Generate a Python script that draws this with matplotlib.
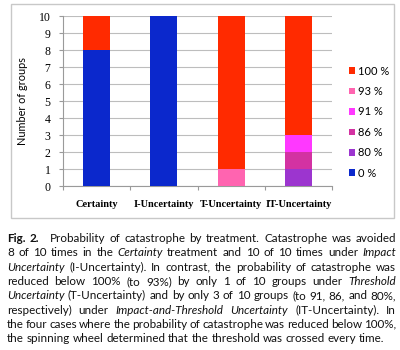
import numpy as np
import matplotlib.pyplot as plt
from matplotlib.patches import Rectangle

treatments = ["Certainty", "I-Uncertainty", "T-Uncertainty", "IT-Uncertainty"]

# series stacked from the bottom up
series = ["0 %", "80 %", "86 %", "91 %", "93 %", "100 %"]
counts = [
    [8, 10, 0, 0],   # 0 %
    [0, 0, 0, 1],    # 80 %
    [0, 0, 0, 1],    # 86 %
    [0, 0, 0, 1],    # 91 %
    [0, 0, 1, 0],    # 93 %
    [2, 0, 9, 7],    # 100 %
]
colors = ["#0B28CC", "#9C35CF", "#D332A2", "#FF38FF", "#FF64B0", "#FF2A00"]

caption = [
    [("Fig.", "b"), ("2.", "b", 2.6), ("Probability", "n"), ("of", "n"), ("catastrophe", "n"),
     ("by", "n"), ("treatment.", "n"), ("Catastrophe", "n"), ("was", "n"), ("avoided", "n")],
    [("8", "n"), ("of", "n"), ("10", "n"), ("times", "n"), ("in", "n"), ("the", "n"),
     ("Certainty", "i"), ("treatment", "n"), ("and", "n"), ("10", "n"), ("of", "n"),
     ("10", "n"), ("times", "n"), ("under", "n"), ("Impact", "i")],
    [("Uncertainty", "i"), ("(I-Uncertainty).", "n"), ("In", "n"), ("contrast,", "n"),
     ("the", "n"), ("probability", "n"), ("of", "n"), ("catastrophe", "n"), ("was", "n")],
    [("reduced", "n"), ("below", "n"), ("100%", "n"), ("(to", "n"), ("93%)", "n"), ("by", "n"),
     ("only", "n"), ("1", "n"), ("of", "n"), ("10", "n"), ("groups", "n"), ("under", "n"),
     ("Threshold", "i")],
    [("Uncertainty", "i"), ("(T-Uncertainty)", "n"), ("and", "n"), ("by", "n"), ("only", "n"),
     ("3", "n"), ("of", "n"), ("10", "n"), ("groups", "n"), ("(to", "n"), ("91,", "n"),
     ("86,", "n"), ("and", "n"), ("80%,", "n")],
    [("respectively)", "n"), ("under", "n"), ("Impact-and-Threshold", "i"),
     ("Uncertainty", "i"), ("(IT-Uncertainty).", "n"), ("In", "n")],
    [("the", "n"), ("four", "n"), ("cases", "n"), ("where", "n"), ("the", "n"),
     ("probability", "n"), ("of", "n"), ("catastrophe", "n"), ("was", "n"), ("reduced", "n"),
     ("below", "n"), ("100%,", "n")],
    [("the", "n"), ("spinning", "n"), ("wheel", "n"), ("determined", "n"), ("that", "n"),
     ("the", "n"), ("threshold", "n"), ("was", "n"), ("crossed", "n"), ("every", "n"),
     ("time.", "n")],
]

W, H = 400, 350
fig = plt.figure(figsize=(4, 3.5), dpi=100)

# light frame round the chart
fig.patches.append(Rectangle((11 / W, 1 - 218 / H), 383 / W, 214 / H,
                             transform=fig.transFigure, fill=False,
                             edgecolor="#c8c8c8", lw=1.0))

ax = fig.add_axes([63 / W, 1 - 186 / H, 269 / W, 170 / H])
x = np.arange(len(treatments))
bottom = np.zeros(len(treatments))
bars = []
for name, vals, c in zip(series, counts, colors):
    b = ax.bar(x, vals, width=0.4, bottom=bottom, color=c, label=name, zorder=3)
    bars.append(b)
    bottom += np.array(vals)

ax.set_xlim(-0.5, 3.5)
ax.set_ylim(0, 10)
ax.set_yticks(range(0, 11))
ax.grid(axis="y", color="#bdbdbd", lw=0.8, zorder=0)
for s in ["top", "right"]:
    ax.spines[s].set_visible(False)
for s in ["left", "bottom"]:
    ax.spines[s].set_color("#9a9a9a")
    ax.spines[s].set_linewidth(0.8)
ax.tick_params(axis="y", length=3, width=0.8, color="#9a9a9a", pad=6)
ax.set_yticklabels([str(v) for v in range(0, 11)], family="Liberation Serif", fontsize=8.5)
ax.set_xticks(x)
ax.set_xticklabels(treatments, family="Liberation Serif", fontweight="bold", fontsize=7.5)
ax.tick_params(axis="x", length=0, pad=10)
ax.set_xticks(np.arange(-0.5, 4, 1), minor=True)
ax.tick_params(axis="x", which="minor", length=3, width=0.8, color="#9a9a9a")
ax.set_ylabel("Number of groups", family="Lato", fontsize=7.8, labelpad=8)

handles = bars[::-1]
labels = series[::-1]
fig.legend(handles, labels, loc="upper left", bbox_to_anchor=(343 / W, 1 - 60 / H),
           frameon=False, prop={"family": "Lato", "size": 8},
           handlelength=0.55, handleheight=0.55, handletextpad=0.3,
           labelspacing=0.85, borderpad=0)

# justified caption, word by word
fig.canvas.draw()
renderer = fig.canvas.get_renderer()
left, right = 7, 396
top_base = 242
line_step = 14.3
fs = 8.4
styles = {"n": dict(style="normal", weight="normal"),
          "i": dict(style="italic", weight="normal"),
          "b": dict(style="normal", weight="bold")}
for li, line in enumerate(caption):
    y = 1 - (top_base + li * line_step) / H
    texts, widths, gaps = [], [], []
    for tok in line:
        word, st = tok[0], tok[1]
        t = fig.text(0, y, word, family="Lato", fontsize=fs, color="#111111",
                     va="baseline", ha="left", **styles[st])
        widths.append(t.get_window_extent(renderer).width)
        texts.append(t)
        gaps.append(tok[2] if len(tok) > 2 else 1.0)
    gaps = gaps[:-1]
    if li < len(caption) - 1:
        unit = (right - left - sum(widths)) / sum(gaps)
    else:
        unit = 2.8
    pos = left
    for i, t in enumerate(texts):
        t.set_x(pos / W)
        pos += widths[i]
        if i < len(gaps):
            pos += gaps[i] * unit

fig.savefig("out.png", dpi=100)
